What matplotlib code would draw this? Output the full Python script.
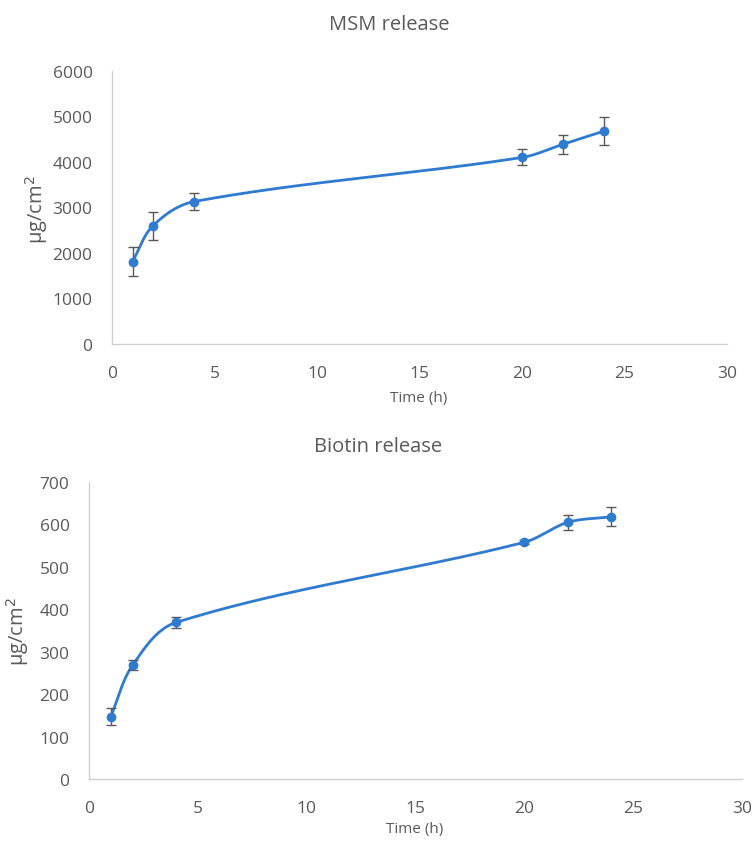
import numpy as np
import matplotlib.pyplot as plt

plt.rcParams['font.family'] = ['Open Sans', 'DejaVu Sans']

time_h = [1, 2, 4, 20, 22, 24]

msm = [1810, 2600, 3130, 4100, 4390, 4680]
msm_err = [320, 310, 190, 175, 210, 300]

biotin = [147, 268, 369, 558, 605, 618]
biotin_err = [20, 12, 13, 5, 18, 22]

line_col = '#2E7BCF'
grey = '#595959'

W, H = 753, 845


def smooth(ax, x, y, n=60):
    # bezier smoothing done in screen space, roughly what Excel does
    p = ax.transData.transform(np.column_stack([x, y]))
    k = len(p)
    out = []
    t = np.linspace(0, 1, n)[:, None]
    for i in range(k - 1):
        a, b = p[i], p[i + 1]
        seg = np.hypot(*(b - a))
        d0 = p[min(i + 1, k - 1)] - p[max(i - 1, 0)]
        d1 = p[min(i + 2, k - 1)] - p[i]
        c0 = a + d0 / np.hypot(*d0) * seg / 3
        c1 = b - d1 / np.hypot(*d1) * seg / 3
        out.append((1 - t) ** 3 * a + 3 * t * (1 - t) ** 2 * c0
                   + 3 * t ** 2 * (1 - t) * c1 + t ** 3 * b)
    pts = ax.transData.inverted().transform(np.vstack(out))
    return pts[:, 0], pts[:, 1]


def draw(ax, y, err, ymax, ystep):
    ax.set_xlim(0, 30)
    ax.set_ylim(0, ymax)
    sx, sy = smooth(ax, time_h, y)
    ax.plot(sx, sy, color=line_col, lw=2, zorder=2)
    ax.errorbar(time_h, y, yerr=err, fmt='o', color=line_col, ms=6,
                ecolor=grey, elinewidth=1, capsize=3.5, capthick=1, zorder=3)
    ax.set_xticks(range(0, 31, 5))
    ax.set_yticks(range(0, ymax + 1, ystep))
    for s in ['top', 'right']:
        ax.spines[s].set_visible(False)
    for s in ['left', 'bottom']:
        ax.spines[s].set_color('#D0D0D0')
        ax.spines[s].set_linewidth(1)
    ax.tick_params(length=0, labelsize=12.5, labelcolor=grey)
    ax.tick_params(axis='x', pad=15)
    ax.tick_params(axis='y', pad=14)


fig = plt.figure(figsize=(W / 100, H / 100), dpi=100)
ax1 = fig.add_axes([112 / W, 1 - 345 / H, 615 / W, 273 / H])
ax2 = fig.add_axes([89 / W, 1 - 780 / H, 653 / W, 297 / H])

draw(ax1, msm, msm_err, 6000, 1000)
draw(ax2, biotin, biotin_err, 700, 100)

fig.text(389 / W, 1 - 25 / H, 'MSM release', fontsize=14.5, color=grey, ha='center', va='center')
fig.text(378 / W, 1 - 447 / H, 'Biotin release', fontsize=14.5, color=grey, ha='center', va='center')
fig.text(419 / W, 1 - 399 / H, 'Time (h)', fontsize=11, color=grey, ha='center', va='center')
fig.text(415 / W, 1 - 830 / H, 'Time (h)', fontsize=11, color=grey, ha='center', va='center')
fig.text(37 / W, 1 - 210 / H, 'μg/cm$^2$', fontsize=14.5, color=grey, ha='center', va='center', rotation=90)
fig.text(18 / W, 1 - 632 / H, 'μg/cm$^2$', fontsize=14.5, color=grey, ha='center', va='center', rotation=90)

fig.savefig('out.png', dpi=100)
